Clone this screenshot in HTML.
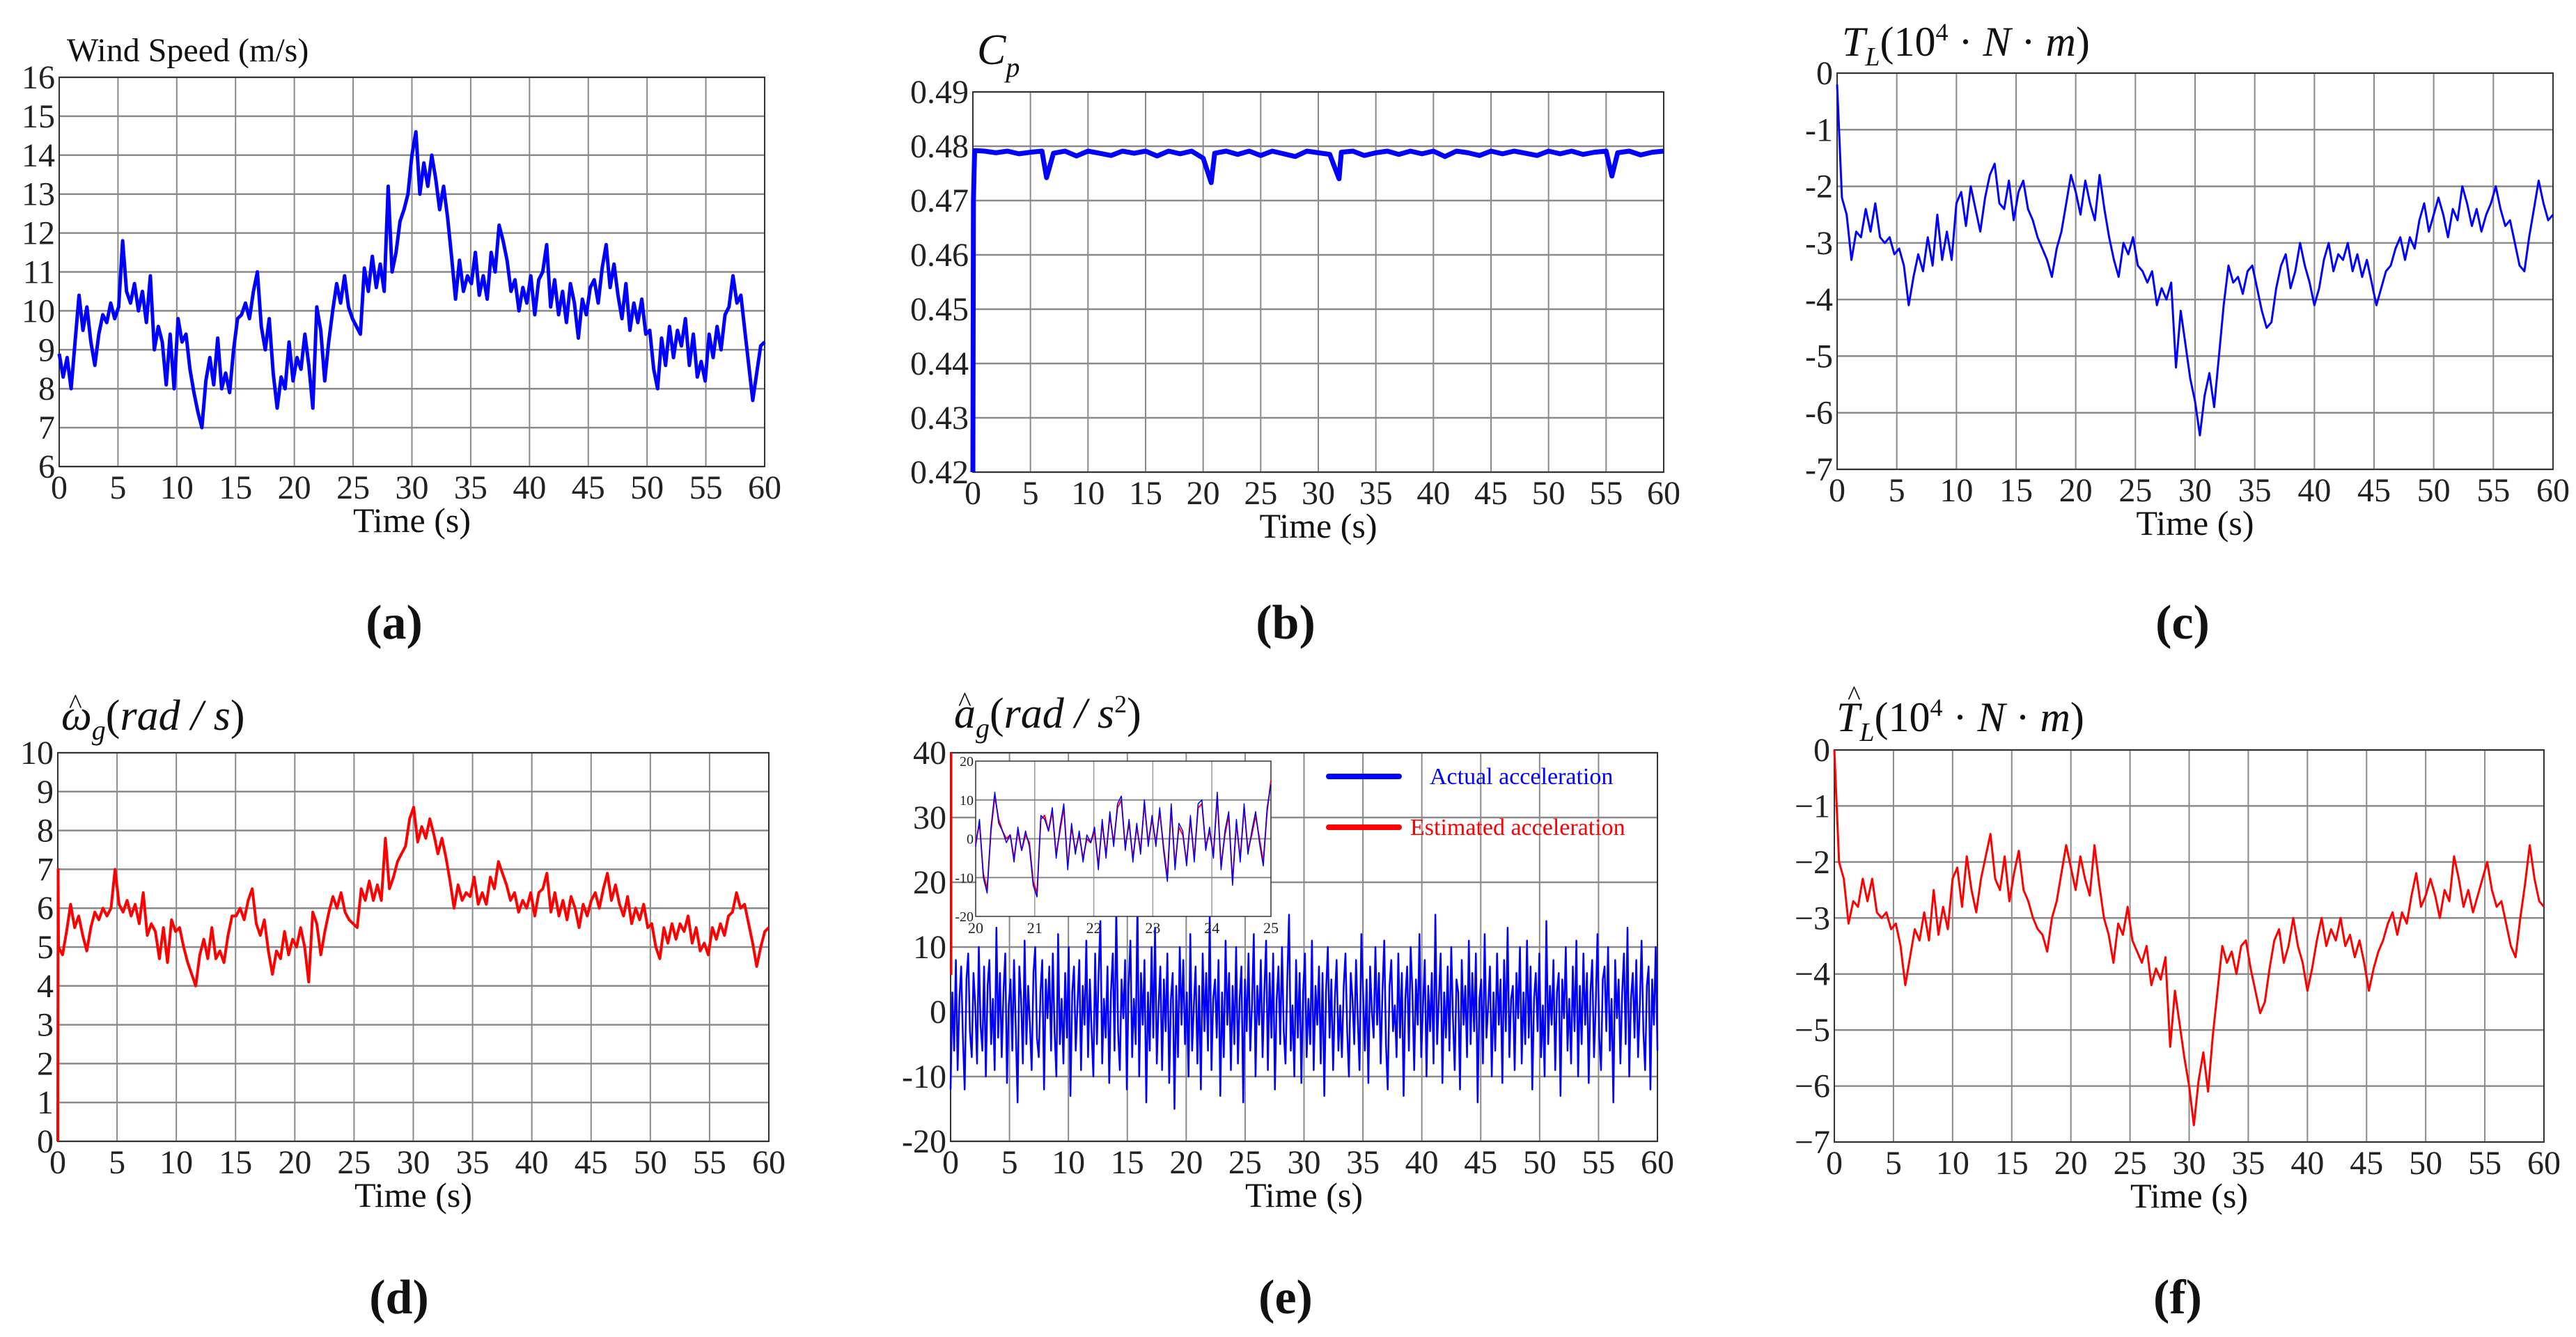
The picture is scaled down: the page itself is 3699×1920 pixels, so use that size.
<!DOCTYPE html>
<html><head><meta charset="utf-8">
<style>
html,body{margin:0;padding:0;background:#fff;}
svg{display:block;font-family:"Liberation Serif",serif;}
</style></head>
<body>
<svg id="fig" width="3699" height="1920" viewBox="0 0 3699 1920" xmlns="http://www.w3.org/2000/svg">
<rect width="3699" height="1920" fill="#fff"/>
</svg>
<script>
// ---------- data ----------
const xTicks = [0,5,10,15,20,25,30,35,40,45,50,55,60];
const windV = [8.9,8.3,8.8,8.0,9.2,10.4,9.5,10.1,9.2,8.6,9.4,9.9,9.7,10.2,9.8,10.1,11.8,10.5,10.2,10.7,10.0,10.5,9.7,10.9,9.0,9.6,9.2,8.1,9.4,8.0,9.8,9.2,9.4,8.5,7.9,7.4,7.0,8.2,8.8,8.1,9.3,8.0,8.4,7.9,9.0,9.8,9.9,10.2,9.8,10.5,11.0,9.6,9.0,9.8,8.4,7.5,8.3,8.0,9.2,8.2,8.8,8.5,9.4,8.6,7.5,10.1,9.5,8.2,9.2,10.0,10.7,10.2,10.9,10.1,9.8,9.6,9.4,11.1,10.5,11.4,10.6,11.2,10.5,13.2,11.0,11.5,12.3,12.6,13.0,14.0,14.6,13.0,13.8,13.2,14.0,13.4,12.6,13.2,12.4,11.4,10.3,11.3,10.5,10.9,10.7,11.5,10.4,10.9,10.3,11.5,11.0,12.2,11.8,11.3,10.5,10.8,10.0,10.6,10.2,10.9,9.9,10.8,11.0,11.7,10.1,10.8,9.9,10.5,9.7,10.7,10.2,9.3,10.3,9.9,10.6,10.8,10.2,11.1,11.7,10.6,11.2,10.4,9.8,10.7,9.5,10.2,9.7,10.3,9.4,9.5,8.5,8.0,9.3,8.6,9.6,8.8,9.5,9.1,9.8,8.6,9.4,8.3,8.7,8.2,9.4,8.8,9.6,9.0,9.9,10.1,10.9,10.2,10.4,9.5,8.6,7.7,8.4,9.1,9.2];

const cpT = [0,0.05,0.15,1,2,3,4,5,6,6.4,7,8,9,10,11,12,13,14,15,16,17,18,19,20,20.7,21,22,23,24,25,26,27,28,29,30,31,31.8,32,33,34,35,36,37,38,39,40,41,42,43,44,45,46,47,48,49,50,51,52,53,54,55,55.5,56,57,58,59,60];
const cpV = [0.420,0.470,0.4792,0.4791,0.4788,0.4791,0.4786,0.4789,0.4791,0.4742,0.4787,0.4791,0.4782,0.4791,0.4787,0.4783,0.4791,0.4787,0.4791,0.4782,0.4791,0.4786,0.4791,0.4778,0.4733,0.4787,0.4791,0.4785,0.4791,0.4783,0.4791,0.4786,0.4781,0.4791,0.4788,0.4785,0.4740,0.4789,0.4791,0.4783,0.4788,0.4791,0.4785,0.4791,0.4786,0.4791,0.4781,0.4791,0.4788,0.4783,0.4791,0.4786,0.4791,0.4787,0.4783,0.4791,0.4786,0.4791,0.4785,0.4789,0.4791,0.4745,0.4788,0.4791,0.4784,0.4789,0.4791];

const tlV = [-0.2,-2.2,-2.5,-3.3,-2.8,-2.9,-2.4,-2.8,-2.3,-2.9,-3.0,-2.9,-3.2,-3.1,-3.4,-4.1,-3.6,-3.2,-3.5,-2.9,-3.4,-2.5,-3.3,-2.8,-3.3,-2.3,-2.1,-2.7,-2.0,-2.4,-2.8,-2.2,-1.8,-1.6,-2.3,-2.4,-1.9,-2.6,-2.1,-1.9,-2.4,-2.6,-2.9,-3.1,-3.3,-3.6,-3.1,-2.8,-2.3,-1.8,-2.1,-2.5,-1.9,-2.3,-2.6,-1.8,-2.4,-2.9,-3.3,-3.6,-3.0,-3.2,-2.9,-3.4,-3.5,-3.7,-3.5,-4.1,-3.8,-4.0,-3.7,-5.2,-4.2,-4.8,-5.4,-5.8,-6.4,-5.7,-5.3,-5.9,-5.0,-4.1,-3.4,-3.7,-3.6,-3.9,-3.5,-3.4,-3.8,-4.2,-4.5,-4.4,-3.8,-3.4,-3.2,-3.8,-3.5,-3.0,-3.4,-3.7,-4.1,-3.8,-3.3,-3.0,-3.5,-3.2,-3.3,-3.0,-3.5,-3.2,-3.6,-3.3,-3.7,-4.1,-3.8,-3.5,-3.4,-3.1,-2.9,-3.3,-2.9,-3.1,-2.6,-2.3,-2.8,-2.5,-2.2,-2.5,-2.9,-2.4,-2.6,-2.0,-2.3,-2.7,-2.4,-2.8,-2.5,-2.3,-2.0,-2.4,-2.7,-2.6,-3.0,-3.4,-3.5,-2.9,-2.4,-1.9,-2.3,-2.6,-2.5];

const omV = [0,7.0,5.0,4.8,5.4,6.1,5.5,5.8,5.3,4.9,5.5,5.9,5.7,6.0,5.8,6.0,7.0,6.1,5.9,6.2,5.8,6.1,5.6,6.4,5.3,5.6,5.4,4.7,5.5,4.6,5.7,5.4,5.5,5.0,4.6,4.3,4.0,4.8,5.2,4.7,5.5,4.7,4.9,4.6,5.3,5.8,5.8,6.0,5.7,6.2,6.5,5.6,5.3,5.7,4.9,4.3,4.9,4.7,5.4,4.8,5.2,5.0,5.5,5.0,4.1,5.9,5.6,4.8,5.4,5.9,6.3,6.0,6.4,5.9,5.7,5.6,5.5,6.5,6.2,6.7,6.2,6.6,6.2,7.8,6.5,6.8,7.2,7.4,7.6,8.3,8.6,7.7,8.1,7.8,8.3,7.9,7.4,7.8,7.3,6.7,6.0,6.6,6.2,6.4,6.3,6.8,6.1,6.4,6.1,6.8,6.5,7.2,6.9,6.6,6.2,6.4,5.9,6.2,6.0,6.4,5.8,6.4,6.5,6.9,5.9,6.4,5.8,6.2,5.7,6.3,6.0,5.5,6.1,5.8,6.2,6.4,6.0,6.5,6.9,6.2,6.6,6.1,5.8,6.3,5.6,6.0,5.7,6.1,5.5,5.6,5.0,4.7,5.5,5.1,5.6,5.2,5.6,5.4,5.8,5.1,5.5,4.9,5.1,4.8,5.5,5.2,5.6,5.3,5.8,5.9,6.4,6.0,6.1,5.6,5.1,4.5,5.0,5.4,5.5];

const thV = [0,-2.0,-2.3,-3.1,-2.7,-2.8,-2.3,-2.7,-2.3,-2.9,-3.0,-2.9,-3.2,-3.1,-3.5,-4.2,-3.7,-3.2,-3.4,-2.9,-3.4,-2.5,-3.3,-2.8,-3.2,-2.3,-2.1,-2.8,-1.9,-2.5,-2.9,-2.3,-1.9,-1.5,-2.3,-2.5,-1.9,-2.7,-2.2,-1.8,-2.5,-2.7,-3.0,-3.2,-3.3,-3.6,-3.0,-2.7,-2.2,-1.7,-2.1,-2.5,-1.9,-2.3,-2.6,-1.7,-2.4,-3.0,-3.3,-3.8,-3.1,-3.3,-2.8,-3.4,-3.6,-3.8,-3.5,-4.2,-3.9,-4.1,-3.7,-5.3,-4.3,-4.9,-5.5,-6.0,-6.7,-5.9,-5.4,-6.1,-5.1,-4.3,-3.5,-3.8,-3.6,-4.0,-3.5,-3.4,-3.9,-4.3,-4.7,-4.5,-3.9,-3.4,-3.2,-3.8,-3.5,-3.0,-3.5,-3.8,-4.3,-3.9,-3.4,-3.0,-3.5,-3.2,-3.4,-3.0,-3.5,-3.3,-3.7,-3.4,-3.8,-4.3,-3.9,-3.6,-3.4,-3.1,-2.9,-3.3,-2.9,-3.1,-2.6,-2.2,-2.8,-2.6,-2.3,-2.6,-3.0,-2.5,-2.7,-1.9,-2.3,-2.8,-2.5,-2.9,-2.6,-2.3,-2.0,-2.5,-2.8,-2.7,-3.1,-3.5,-3.7,-3.0,-2.4,-1.7,-2.3,-2.7,-2.8];

const accV = [-12,3,-6,8,-9,2,7,-4,-12,5,9,-3,-7,6,1,-8,10,-2,-6,7,-10,4,8,-5,2,-9,13,-4,6,-7,3,9,-11,1,5,-6,8,-3,-14,7,2,
-8,11,-5,4,-2,-9,6,10,-4,-7,3,8,-12,5,-1,7,-6,9,-3,-10,
12,-5,2,-8,6,-4,10,-13,3,7,-6,1,8,-9,4,-2,11,-7,5,-3,
-10,9,-5,6,14,-8,2,-4,7,-11,3,9,-6,16,-3,-9,5,-1,8,-12,
4,11,-7,2,-5,17,-10,6,-2,8,-14,3,-6,10,-4,13,-8,1,7,-9,
5,-3,9,-11,2,6,-15,4,-7,10,-2,8,-5,3,-10,12,-6,1,7,-8,
4,-12,9,-3,6,-6,15,-9,2,5,-4,8,-13,3,-7,11,-2,6,-9,4,
-5,10,-8,2,7,-14,5,-3,9,-6,1,12,-10,4,-2,8,-7,3,11,-9,
6,-4,9,-12,2,7,-5,10,-3,-8,5,15,-6,1,-10,8,-4,6,-11,3,
9,-7,2,-5,11,-9,4,-2,7,-8,6,-13,3,10,-4,5,-9,2,8,-6,1,
-7,4,9,-3,-10,6,2,-5,8,-1,-9,12,3,-6,5,-11,7,0,-4,10,
-2,6,-8,3,11,-5,-12,4,8,-3,1,-7,9,-4,6,-13,2,7,-6,10,
3,-9,5,-2,12,-7,1,8,-10,4,-3,6,-8,15,-5,2,9,-11,3,-4,
7,-6,10,-1,-9,5,3,-12,8,-2,4,-7,11,-5,6,-3,9,-14,2,5,
-8,12,-4,1,7,-10,3,-6,9,-2,5,-11,8,-3,13,-7,2,4,-9,6,
-1,10,-8,3,-5,11,-4,7,-12,2,6,-3,9,-7,1,-10,14,-5,4,-2,
8,-9,3,6,-13,5,-1,10,-6,2,-8,7,-3,11,-10,4,-5,9,-2,6,
-11,3,8,-7,1,12,-4,-9,5,7,-3,10,-6,2,-14,8,-1,5,-8,3,
9,-5,13,-10,2,6,-4,8,-7,1,11,-3,-9,4,7,-12,5,-2,10,-6];
const insetV = [-2,5,-10,-14,3,12,4,2,-1,1,-6,3,-3,2,-2,-12,-15,6,5,2,8,-5,3,9,-8,4,-4,2,-6,1,-1,3,-8,5,-5,7,-2,9,11,-3,5,-6,4,-4,10,-2,6,-2,8,-3,-11,9,-8,4,2,-7,6,-6,9,10,-3,3,-5,12,-8,2,7,-12,5,-6,9,-4,2,7,-1,-7,8,14];
const insetEstV = [-1,4,-9,-13,2,11,5,2,0,1,-5,2,-3,1,-1,-11,-14,5,6,2,7,-4,2,8,-7,3,-3,1,-5,0,-1,2,-7,4,-4,6,-1,8,10,-2,4,-5,3,-3,9,-1,5,-1,7,-2,-10,8,-7,3,1,-6,5,-5,8,9,-2,2,-4,11,-7,1,6,-11,4,-5,8,-3,1,6,0,-6,7,15];

// ---------- helpers ----------
const NS = "http://www.w3.org/2000/svg";
const svg = document.getElementById('fig');
function mk(tag, attrs, parent){
  const e = document.createElementNS(NS, tag);
  for (const k in attrs) e.setAttribute(k, attrs[k]);
  (parent||svg).appendChild(e);
  return e;
}
function lin(d0,d1,r0,r1){ return v => r0 + (v-d0)/(d1-d0)*(r1-r0); }
function timesFor(arr, t0, t1){ return arr.map((v,i)=> t0 + i*(t1-t0)/(arr.length-1)); }

function panel(id, L,R,T,B, xmin,xmax, ymin,ymax, yTicks, yFmt, xT){
  const g = mk('g',{});
  
  
  const sx = lin(xmin,xmax,L,R), sy = lin(ymin,ymax,B,T);
  const grid = mk('g',{},g);
  
  
  xT.forEach(t=>{ mk('line',{x1:sx(t),x2:sx(t),y1:T,y2:B,stroke:'#8a8a8a','stroke-width':2},grid); });
  yTicks.forEach(t=>{ mk('line',{x1:L,x2:R,y1:sy(t),y2:sy(t),stroke:'#8a8a8a','stroke-width':2.5},grid); });
  const fr = mk('rect',{x:L,y:T,width:R-L,height:B-T,fill:'none',stroke:'#333','stroke-width':2},g);
  
  
  const ya = mk('g',{},g);
  
  
  yTicks.forEach(t=>{
    const tx = mk('text',{x:L-6,y:sy(t)+16,'text-anchor':'end','font-size':48,fill:'#222'},ya);
    tx.textContent = yFmt(t);
  });
  const xa = mk('g',{},g);
  
  
  xT.forEach(t=>{
    const tx = mk('text',{x:sx(t),y:B+46,'text-anchor':'middle','font-size':48,fill:'#222'},xa);
    tx.textContent = t;
  });
  const xl = mk('text',{x:(L+R)/2,y:B+94,'text-anchor':'middle','font-size':50,fill:'#111'},g);
  xl.textContent = 'Time (s)';
  
  
  return {g,sx,sy};
}
function series(p, name, xs, ys, color, w){
  const pts = xs.map((x,i)=>p.sx(x).toFixed(1)+','+p.sy(ys[i]).toFixed(1)).join(' ');
  const pl = mk('polyline',{points:pts,fill:'none',stroke:color,'stroke-width':w,'stroke-linejoin':'round'},p.g);
  
  
  return pl;
}
function label(x,y,txt,name){
  const t = mk('text',{x:x,y:y,'text-anchor':'middle','font-size':70,'font-weight':'bold',fill:'#111'});
  t.textContent = txt;
  
  
}
function rng(a,b,s){ const r=[]; for(let v=a; v<=b+1e-9; v+=s) r.push(+v.toFixed(4)); return r; }

// (a)
const pa = panel('wind',85,1098,111,670,0,60,6,16,rng(6,16,1),v=>v,xTicks);
series(pa,'wind-speed-line',timesFor(windV,0,60),windV,'#0000ff',5);
// (b)
const pb = panel('cp',1397,2389,132,678,0,60,0.42,0.49,rng(0.42,0.49,0.01),v=>v.toFixed(2),xTicks);
series(pb,'cp-line',cpT,cpV,'#0000ff',7);
// (c)
const pc = panel('tl',2638,3666,105,674,0,60,-7,0,rng(-7,0,1),v=>v===0?'0':'-'+Math.abs(v),xTicks);
series(pc,'load-torque-line',timesFor(tlV,0,60),tlV,'#0000ff',3);
// (d)
const pd = panel('omega',83,1104,1081,1639,0,60,0,10,rng(0,10,1),v=>v,xTicks);
series(pd,'omega-line',[0,0.03].concat(timesFor(omV.slice(2),0.06,60)),omV,'#ff0000',4);
// (e)
const pe = panel('accel',1365,2380,1081,1639,0,60,-20,40,rng(-20,40,10),v=>v,xTicks);
series(pe,'actual-accel-line',timesFor(accV,0,60),accV,'#0000ff',2.5);
mk('line',{x1:1366,x2:1366,y1:1081,y2:1400,stroke:'#ff0000','stroke-width':3},pe.g);
// inset
(function(){
  const L=1401,R=1825,T=1093,B=1316;
  const g = mk('g',{},pe.g);
  
  
  mk('rect',{x:L,y:T,width:R-L,height:B-T,fill:'#fff'},g);
  const sx = lin(20,25,L,R), sy = lin(-20,20,B,T);
  [21,22,23,24].forEach(t=>mk('line',{x1:sx(t),x2:sx(t),y1:T,y2:B,stroke:'#999','stroke-width':1.5},g));
  [-10,0,10].forEach(t=>mk('line',{x1:L,x2:R,y1:sy(t),y2:sy(t),stroke:'#888','stroke-width':2},g));
  mk('rect',{x:L,y:T,width:R-L,height:B-T,fill:'none',stroke:'#333','stroke-width':1.5},g);
  [-20,-10,0,10,20].forEach(t=>{const tx=mk('text',{x:L-3,y:sy(t)+7,'text-anchor':'end','font-size':20,fill:'#222'},g); tx.textContent=t;});
  [20,21,22,23,24,25].forEach(t=>{const tx=mk('text',{x:sx(t),y:B+24,'text-anchor':'middle','font-size':22,fill:'#222'},g); tx.textContent=t;});
  const p={g:g,sx:sx,sy:sy};
  series(p,'inset-estimated-line',timesFor(insetEstV,20,25),insetEstV,'#ff0000',2);
  series(p,'inset-actual-line',timesFor(insetV,20,25),insetV,'#0000ff',1.5);
})();
// legend
(function(){
  const g = mk('g',{},pe.g);
  
  
  mk('line',{x1:1908,x2:2009,y1:1115,y2:1115,stroke:'#0000ff','stroke-width':8,'stroke-linecap':'round'},g);
  const t1 = mk('text',{x:2053,y:1126,'font-size':34,fill:'#0000ff'},g); t1.textContent='Actual acceleration';
  
  
  mk('line',{x1:1908,x2:2009,y1:1188,y2:1188,stroke:'#ff0000','stroke-width':8,'stroke-linecap':'round'},g);
  const t2 = mk('text',{x:2025,y:1199,'font-size':34,fill:'#ff0000'},g); t2.textContent='Estimated acceleration';
  
  
})();
// (f)
const pf = panel('tlhat',2634,3653,1077,1640,0,60,-7,0,rng(-7,0,1),v=>v===0?'0':'\u2212'+Math.abs(v),xTicks);
series(pf,'estimated-load-torque-line',timesFor(thV,0,60),thV,'#ff0000',3);

// panel labels
label(566,917,'(a)','label-a');
label(1846,917,'(b)','label-b');
label(3134,917,'(c)','label-c');
label(573,1886,'(d)','label-d');
label(1846,1886,'(e)','label-e');
label(3127,1886,'(f)','label-f');
</script>
<!-- titles -->
<svg style="position:absolute;left:0;top:0" width="3699" height="1920">
<text x="96" y="88" font-family="Liberation Serif" font-size="48" fill="#111">Wind Speed (m/s)</text>
<text x="1403" y="92" font-family="Liberation Serif" font-size="62" font-style="italic" fill="#111">C<tspan font-size="40" dy="18">p</tspan></text>
<text x="2645" y="80" font-family="Liberation Serif" font-size="60" fill="#111"><tspan font-style="italic">T</tspan><tspan font-size="38" dy="14" font-style="italic">L</tspan><tspan dy="-14">(10</tspan><tspan font-size="36" dy="-22">4</tspan><tspan dy="22"> · </tspan><tspan font-style="italic">N</tspan><tspan> · </tspan><tspan font-style="italic">m</tspan><tspan>)</tspan></text>
<text x="88" y="1048" font-family="Liberation Serif" font-size="62" fill="#111"><tspan font-style="italic">ω</tspan><tspan font-size="40" dy="14" font-style="italic">g</tspan><tspan dy="-14">(</tspan><tspan font-style="italic">rad / s</tspan><tspan>)</tspan></text>
<text x="99" y="1024" font-family="Liberation Serif" font-size="40" fill="#111">^</text>
<text x="1370" y="1045" font-family="Liberation Serif" font-size="62" fill="#111"><tspan font-style="italic">a</tspan><tspan font-size="40" dy="14" font-style="italic">g</tspan><tspan dy="-14">(</tspan><tspan font-style="italic">rad / s</tspan><tspan font-size="36" dy="-22">2</tspan><tspan dy="22">)</tspan></text>
<text x="1376" y="1021" font-family="Liberation Serif" font-size="40" fill="#111">^</text>
<text x="2637" y="1050" font-family="Liberation Serif" font-size="60" fill="#111"><tspan font-style="italic">T</tspan><tspan font-size="38" dy="14" font-style="italic">L</tspan><tspan dy="-14">(10</tspan><tspan font-size="36" dy="-22">4</tspan><tspan dy="22"> · </tspan><tspan font-style="italic">N</tspan><tspan> · </tspan><tspan font-style="italic">m</tspan><tspan>)</tspan></text>
<text x="2653" y="1012" font-family="Liberation Serif" font-size="40" fill="#111">^</text>
</svg>
</body></html>
